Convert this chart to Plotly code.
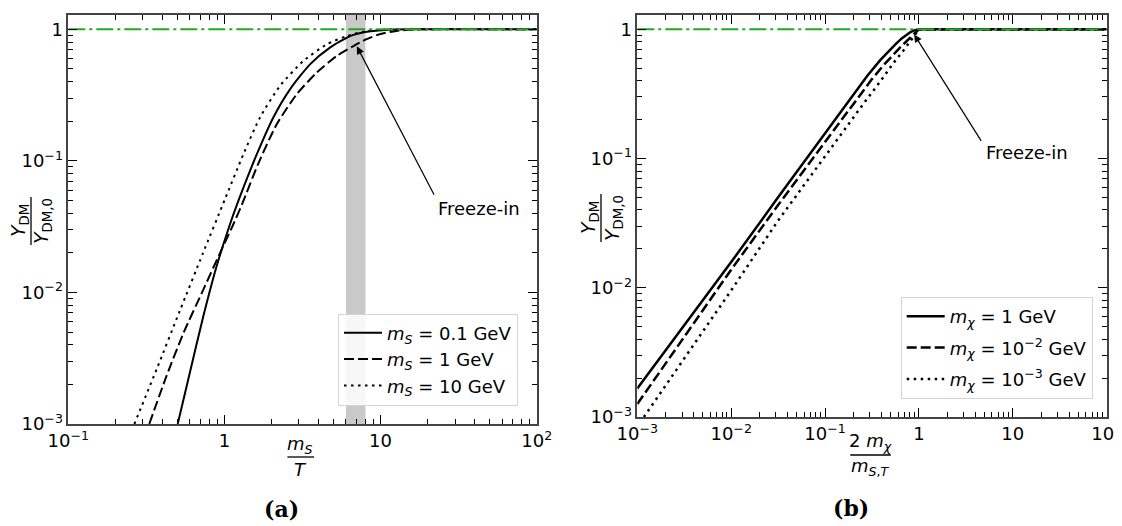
import plotly.graph_objects as go
import math

# ---------------- data: panel (a)  Y_DM/Y_DM,0 vs m_S/T ----------------
a_x_ms01 = [0.502, 0.603, 0.733, 0.891, 1.072, 1.259, 1.61, 2.056, 2.63, 3.53, 4.74, 6.38, 8.17, 11.2, 15.8, 100]
a_y_ms01 = [0.001, 0.00251, 0.00661, 0.0158, 0.0316, 0.0537, 0.112, 0.214, 0.350, 0.542, 0.726, 0.889, 0.959, 0.993, 1.0, 1.0]

a_x_ms1 = [0.330, 0.427, 0.546, 0.724, 0.938, 1.122, 1.291, 1.648, 2.163, 2.904, 3.899, 5.236, 6.699, 8.072, 10.0, 12.59, 17.78, 100]
a_y_ms1 = [0.001, 0.00234, 0.00490, 0.0102, 0.0200, 0.0316, 0.0462, 0.0955, 0.190, 0.321, 0.469, 0.627, 0.746, 0.839, 0.923, 0.973, 1.0, 1.0]

a_x_ms10 = [0.265, 0.372, 0.520, 0.724, 1.009, 1.321, 1.690, 2.270, 3.199, 4.519, 6.067, 8.128, 11.22, 15.85, 100]
a_y_ms10 = [0.001, 0.00269, 0.00735, 0.0195, 0.0513, 0.112, 0.214, 0.372, 0.574, 0.769, 0.889, 0.970, 1.0, 1.0, 1.0]

a_band = [6.0, 8.0]
a_ref_x = [0.1, 100]
a_ref_y = [1.0, 1.0]
a_labels = ["<i>m</i><sub><i>S</i></sub> = 0.1 GeV",
            "<i>m</i><sub><i>S</i></sub> = 1 GeV",
            "<i>m</i><sub><i>S</i></sub> = 10 GeV"]
a_xtickvals = [0.1, 1, 10, 100]
a_xticktext = ["10<sup>−1</sup>", "1", "10", "10<sup>2</sup>"]

# ---------------- data: panel (b)  Y_DM/Y_DM,0 vs 2 m_chi / m_S,T ----------------
b_x_mc1 = [0.001, 0.00316, 0.01, 0.0316, 0.1, 0.184, 0.282, 0.385, 0.501, 0.578, 0.661, 0.740, 0.813, 0.891, 0.955, 1.0, 100]
b_y_mc1 = [0.00166, 0.00513, 0.0158, 0.0501, 0.158, 0.292, 0.437, 0.575, 0.708, 0.782, 0.855, 0.912, 0.953, 0.982, 0.995, 1.0, 1.0]

b_x_mc2 = [0.001, 0.00316, 0.01, 0.0316, 0.1, 0.217, 0.316, 0.417, 0.525, 0.628, 0.724, 0.794, 0.871, 0.933, 1.0, 100]
b_y_mc2 = [0.00126, 0.00417, 0.0138, 0.0437, 0.135, 0.288, 0.412, 0.525, 0.631, 0.721, 0.798, 0.851, 0.908, 0.959, 1.0, 1.0]

b_x_mc3 = [0.001175, 0.00316, 0.01, 0.0316, 0.1, 0.251, 0.355, 0.453, 0.562, 0.681, 0.794, 0.891, 0.955, 1.0, 100]
b_y_mc3 = [0.001, 0.00282, 0.00955, 0.0331, 0.105, 0.260, 0.363, 0.468, 0.575, 0.684, 0.794, 0.891, 0.959, 1.0, 1.0]

b_ref_x = [0.001, 100]
b_ref_y = [1.0, 1.0]
b_labels = ["<i>m</i><sub><i>χ</i></sub> = 1 GeV",
            "<i>m</i><sub><i>χ</i></sub> = 10<sup>−2</sup> GeV",
            "<i>m</i><sub><i>χ</i></sub> = 10<sup>−3</sup> GeV"]
b_xtickvals = [0.001, 0.01, 0.1, 1, 10, 100]
b_xticktext = ["10<sup>−3</sup>", "10<sup>−2</sup>", "10<sup>−1</sup>", "1", "10", "10<sup>2</sup>"]

ytickvals = [0.001, 0.01, 0.1, 1]
yticktext = ["10<sup>−3</sup>", "10<sup>−2</sup>", "10<sup>−1</sup>", "1"]

FONT = "DejaVu Sans"
GREEN = "#22a822"
OFF = 8          # page margin of the html body
W = 1122 - OFF
H = 526 - OFF

fig = go.Figure()

styles = ["solid", "10px,4px", "2.5px,4.5px"]

for i, (xs, ys) in enumerate([(a_x_ms01, a_y_ms01), (a_x_ms1, a_y_ms1), (a_x_ms10, a_y_ms10)]):
    fig.add_trace(go.Scatter(x=xs, y=ys, mode="lines", name=a_labels[i],
                             line=dict(color="black", width=2, dash=styles[i], shape="spline", smoothing=0.6),
                             xaxis="x", yaxis="y", legend="legend", legendgroup="a%d" % i))
fig.add_trace(go.Scatter(x=a_ref_x, y=a_ref_y, mode="lines", showlegend=False,
                         line=dict(color=GREEN, width=2, dash="17px,4px,3px,4px"), xaxis="x", yaxis="y"))

for i, (xs, ys) in enumerate([(b_x_mc1, b_y_mc1), (b_x_mc2, b_y_mc2), (b_x_mc3, b_y_mc3)]):
    fig.add_trace(go.Scatter(x=xs, y=ys, mode="lines", name=b_labels[i],
                             line=dict(color="black", width=2.5, dash=styles[i]),
                             xaxis="x2", yaxis="y2", legend="legend2", legendgroup="b%d" % i))
fig.add_trace(go.Scatter(x=b_ref_x, y=b_ref_y, mode="lines", showlegend=False,
                         line=dict(color=GREEN, width=2, dash="17px,4px,3px,4px"), xaxis="x2", yaxis="y2"))


def minor_vals(lo, hi):
    vals = []
    for e in range(lo, hi):
        for m in range(2, 10):
            vals.append(m * 10.0 ** e)
    return vals


def axis_style(lo, hi, tv, tt):
    return dict(type="log", tickmode="array", tickvals=tv, ticktext=tt,
                showgrid=False, zeroline=False, automargin=False, ticklabeloverflow="allow",
                ticks="inside", ticklen=9, tickwidth=1.4, tickcolor="black",
                showline=True, linecolor="#444", linewidth=1.5, mirror="allticks",
                tickfont=dict(family=FONT, size=18, color="black"),
                minor=dict(tickmode="array", tickvals=minor_vals(lo, hi), ticks="inside",
                           ticklen=5, tickwidth=1, tickcolor="black", showgrid=False))


def px2x(p):
    return (p - OFF) / W


def px2y(p):
    return 1 - (p - OFF) / H


fig.update_layout(
    template="none",
    width=W, height=H, autosize=False,
    margin=dict(l=0, r=0, t=0, b=0, autoexpand=False),
    paper_bgcolor="white", plot_bgcolor="white",
    font=dict(family=FONT, size=18, color="black"),
    xaxis=dict(axis_style(-1, 2, a_xtickvals, a_xticktext), domain=[px2x(68.3), px2x(536.7)],
               range=[-1, 2], anchor="y"),
    yaxis=dict(axis_style(-3, 1, ytickvals, yticktext), domain=[px2y(424), px2y(15)],
               range=[-3, 0.109], anchor="x"),
    xaxis2=dict(axis_style(-3, 2, b_xtickvals, b_xticktext), domain=[px2x(637.3), px2x(1106.7)],
                range=[-3, 2], anchor="y2"),
    yaxis2=dict(axis_style(-3, 1, ytickvals, yticktext), domain=[px2y(417), px2y(15)],
                range=[-3, 0.111], anchor="x2"),
    legend=dict(x=px2x(518), y=px2y(405.5), xanchor="right", yanchor="bottom",
                bgcolor="rgba(255,255,255,0.85)", bordercolor="#d4d4d4", borderwidth=1,
                font=dict(family=FONT, size=18), tracegroupgap=0, itemwidth=38),
    legend2=dict(x=px2x(1092.7), y=px2y(399), xanchor="right", yanchor="bottom",
                 bgcolor="rgba(255,255,255,0.85)", bordercolor="#d4d4d4", borderwidth=1,
                 font=dict(family=FONT, size=18), tracegroupgap=5, itemwidth=38),
)

# shaded band in panel (a)
fig.add_shape(type="rect", xref="x", yref="y domain", x0=a_band[0], x1=a_band[1], y0=0, y1=1,
              fillcolor="#c9c9c9", line=dict(width=0), layer="below")

# Freeze-in arrows and labels
fig.add_annotation(xref="x", yref="y", x=math.log10(7.05), y=math.log10(0.743), text="",
                   showarrow=True, ax=78, ay=150, arrowhead=2, arrowsize=1.3, arrowwidth=1.2,
                   arrowcolor="black")
fig.add_annotation(xref="paper", yref="paper", x=px2x(479), y=px2y(208), text="Freeze-in",
                   showarrow=False, font=dict(family=FONT, size=18), xanchor="center", yanchor="middle")
fig.add_annotation(xref="x2", yref="y2", x=math.log10(0.889), y=math.log10(0.914), text="",
                   showarrow=True, ax=68, ay=108, arrowhead=2, arrowsize=1.3, arrowwidth=1.2,
                   arrowcolor="black")
fig.add_annotation(xref="paper", yref="paper", x=px2x(1026.8), y=px2y(152.5), text="Freeze-in",
                   showarrow=False, font=dict(family=FONT, size=18), xanchor="center", yanchor="middle")


def txt(x, y, s, size=18, angle=0, family=FONT):
    fig.add_annotation(xref="paper", yref="paper", x=px2x(x), y=px2y(y), text=s, showarrow=False,
                       textangle=angle, xanchor="center", yanchor="middle",
                       font=dict(family=family, size=size, color="black"))


def bar(x0, y0, x1, y1):
    fig.add_shape(type="line", xref="paper", yref="paper", x0=px2x(x0), y0=px2y(y0),
                  x1=px2x(x1), y1=px2y(y1), line=dict(color="black", width=1.3))


# x titles
txt(300, 445, "<i>m</i><sub><i>S</i></sub>")
bar(287.4, 457, 314.1, 457)
txt(300, 469, "<i>T</i>")

txt(870.5, 442, "2 <i>m</i><sub><i>χ</i></sub>")
bar(850.3, 455, 890.8, 455)
txt(870.5, 467, "<i>m</i><sub><i>S</i>,<i>T</i></sub>")

# y titles (rotated fractions)
txt(20, 221, "<i>Y</i><sub>DM</sub>", size=19, angle=-90)
bar(31, 197, 31, 245)
txt(43, 221, "<i>Y</i><sub>DM,0</sub>", size=19, angle=-90)

txt(589, 218, "<i>Y</i><sub>DM</sub>", size=19, angle=-90)
bar(601, 194, 601, 242)
txt(613, 218, "<i>Y</i><sub>DM,0</sub>", size=19, angle=-90)

# panel labels
txt(281, 509, "<b>(a)</b>", size=22, family="DejaVu Serif")
txt(851, 508, "<b>(b)</b>", size=22, family="DejaVu Serif")

fig.write_html("out.html")
